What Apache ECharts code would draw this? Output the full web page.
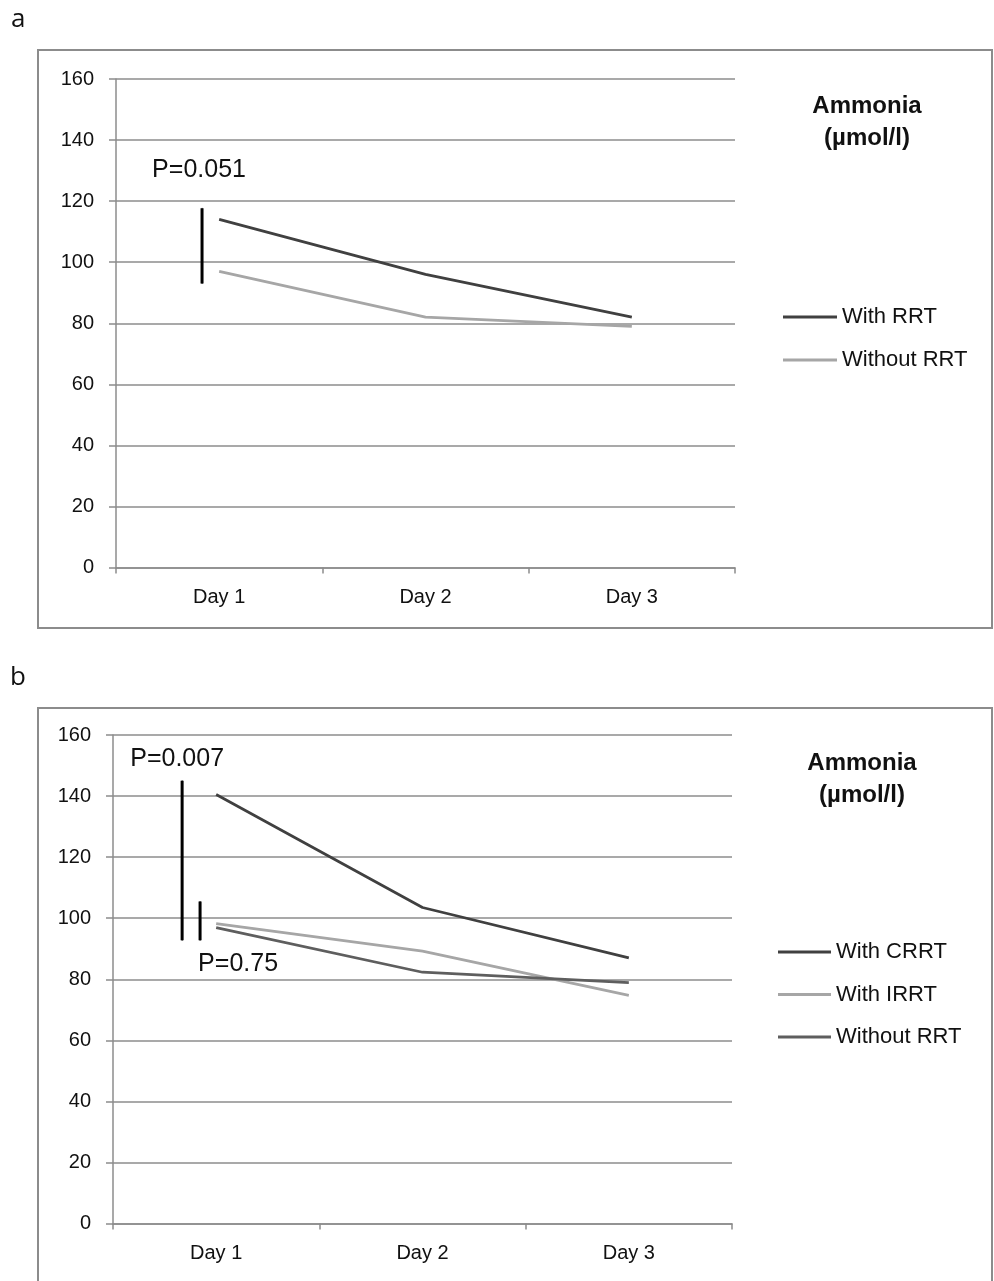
<!DOCTYPE html>
<html>
<head>
<meta charset="utf-8">
<script src="https://cdn.jsdelivr.net/npm/echarts@6/dist/echarts.min.js"></script>
<style>
  html, body { margin: 0; padding: 0; background: #fff; }
  #a { position: absolute; left: 0; top: 0; width: 994px; height: 640px; }
  #b { position: absolute; left: 0; top: 640px; width: 994px; height: 641px; }
</style>
</head>
<body>
<div id="a"></div>
<div id="b"></div>
<script>
// ---- data ----
var days = ['Day 1', 'Day 2', 'Day 3'];
var yMin = 0, yMax = 160, yStep = 20;

var aWithRRT = [114, 96, 82];
var aWithoutRRT = [97, 82, 79];
var aPBar = [93, 117.7];
var aPLabel = 'P=0.051';

var bWithCRRT = [140.5, 103.5, 87];
var bWithIRRT = [98.2, 89.2, 74.7];
var bWithoutRRT = [96.9, 82.3, 78.9];
var bPBarLong = [92.8, 145];
var bPBarShort = [92.8, 105.5];
var bPLabelLong = 'P=0.007';
var bPLabelShort = 'P=0.75';

// ---- styles ----
var FONT = 'Liberation Sans, Arial, sans-serif';
var GRID_C = '#8c8c8c';
var TXT_C = '#111';

function axes(gridLeft, gridTop) {
  return {
    grid: { left: gridLeft, top: gridTop, width: 619, height: 488.5 },
    xAxis: [{
      type: 'category', data: days, boundaryGap: true,
      axisLine: { onZero: false, lineStyle: { color: GRID_C, width: 1.5 } },
      axisTick: { show: true, length: 6, lineStyle: { color: GRID_C, width: 1.5 } },
      axisLabel: { color: TXT_C, fontSize: 20, margin: 20, fontFamily: FONT },
      splitLine: { show: false }
    }, {
      type: 'value', min: -0.5, max: 2.5, show: false,
      axisLine: { show: false, onZero: false }, splitLine: { show: false }
    }],
    yAxis: {
      type: 'value', min: yMin, max: yMax, interval: yStep,
      axisLine: { show: true, onZero: false, lineStyle: { color: GRID_C, width: 1.5 } },
      axisTick: { show: true, length: 7, lineStyle: { color: GRID_C, width: 1.5 } },
      axisLabel: { color: TXT_C, fontSize: 20, margin: 22, fontFamily: FONT },
      splitLine: { show: true, lineStyle: { color: GRID_C, width: 1.5 } }
    }
  };
}

function dataLine(name, values, color) {
  return {
    name: name, type: 'line', data: values, xAxisIndex: 0, yAxisIndex: 0,
    symbol: 'none', lineStyle: { color: color, width: 2.75 }, itemStyle: { color: color },
    z: 3
  };
}

function pBar(xPos, range, labelText, labelAt, labelCfg) {
  var pts = [[xPos, range[0]], [xPos, range[1]]];
  var idx = labelAt === 'top' ? 1 : 0;
  pts[idx] = {
    value: pts[idx],
    label: Object.assign({
      show: true, formatter: labelText, color: TXT_C, fontSize: 25, fontFamily: FONT
    }, labelCfg)
  };
  return {
    type: 'line', xAxisIndex: 1, yAxisIndex: 0, data: pts,
    symbol: 'circle', symbolSize: 1, showSymbol: true,
    itemStyle: { color: '#000' }, lineStyle: { color: '#000', width: 3 },
    z: 4, silent: true
  };
}

// ---- chart a ----
var chartA = echarts.init(document.getElementById('a'), null, { renderer: 'canvas' });
var optA = axes(116, 79);
optA.animation = false;
optA.textStyle = { fontFamily: FONT };
optA.legend = {
  orient: 'vertical', left: 778, top: 301, itemWidth: 54, itemHeight: 3, icon: 'rect',
  itemGap: 21, textStyle: { fontSize: 22, color: TXT_C, lineHeight: 22, fontFamily: FONT },
  data: ['With RRT', 'Without RRT']
};
optA.graphic = [
  { type: 'rect', shape: { x: 38, y: 50, width: 954, height: 578 },
    style: { fill: 'none', stroke: '#8c8c8c', lineWidth: 2 }, silent: true },
  { type: 'text', left: 11, top: 7, style: { text: 'a', fill: '#111', font: '26px Open Sans, sans-serif' } },
  { type: 'text', x: 867, y: 90, style: { text: 'Ammonia\n(µmol/l)', fill: '#111', font: 'bold 24px ' + FONT, textAlign: 'center', lineHeight: 32 } }
];
optA.series = [
  dataLine('With RRT', aWithRRT, '#404040'),
  dataLine('Without RRT', aWithoutRRT, '#a6a6a6'),
  pBar(-0.083, aPBar, aPLabel, 'top', { position: 'top', distance: 25, offset: [-3, 0] })
];
chartA.setOption(optA);

// ---- chart b ----
var chartB = echarts.init(document.getElementById('b'), null, { renderer: 'canvas' });
var optB = axes(113, 95);
optB.animation = false;
optB.textStyle = { fontFamily: FONT };
optB.legend = {
  orient: 'vertical', left: 773, top: 296, itemWidth: 53, itemHeight: 3, icon: 'rect',
  itemGap: 20.5, textStyle: { fontSize: 22, color: TXT_C, lineHeight: 22, fontFamily: FONT },
  data: ['With CRRT', 'With IRRT', 'Without RRT']
};
optB.graphic = [
  { type: 'rect', shape: { x: 38, y: 68, width: 954, height: 700 },
    style: { fill: 'none', stroke: '#8c8c8c', lineWidth: 2 }, silent: true },
  { type: 'text', left: 10, top: 25, style: { text: 'b', fill: '#111', font: '26px Open Sans, sans-serif' } },
  { type: 'text', x: 862, y: 107, style: { text: 'Ammonia\n(µmol/l)', fill: '#111', font: 'bold 24px ' + FONT, textAlign: 'center', lineHeight: 32 } }
];
optB.series = [
  dataLine('With CRRT', bWithCRRT, '#404040'),
  dataLine('With IRRT', bWithIRRT, '#a6a6a6'),
  dataLine('Without RRT', bWithoutRRT, '#5e5e5e'),
  pBar(-0.165, bPBarLong, bPLabelLong, 'top', { position: 'top', distance: 9, offset: [-5, 0] }),
  pBar(-0.078, bPBarShort, bPLabelShort, 'bottom', { position: 'bottom', distance: 11, offset: [38, 0] })
];
chartB.setOption(optB);
</script>
</body>
</html>
